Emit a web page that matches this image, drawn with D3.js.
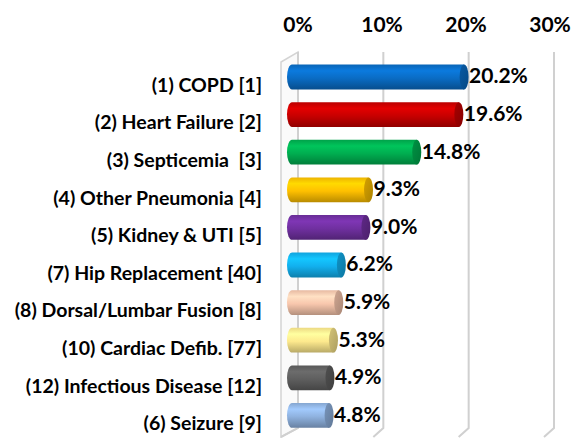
<!DOCTYPE html>
<html>
<head>
<meta charset="utf-8">
<script src="https://cdn.jsdelivr.net/npm/d3@7"></script>
<style>
  body { margin: 0; background: #fff; }
  svg { display: block; }
  text { font-family: Lato, "Open Sans", sans-serif; font-weight: bold; fill: #000; }
</style>
</head>
<body>
<div id="chart"></div>
<script>
(function (d3) {
    'use strict';

    // chart data, top bar first
    var categories = [
        '(1) COPD [1]',
        '(2) Heart Failure [2]',
        '(3) Septicemia  [3]',
        '(4) Other Pneumonia [4]',
        '(5) Kidney & UTI [5]',
        '(7) Hip Replacement [40]',
        '(8) Dorsal/Lumbar Fusion [8]',
        '(10) Cardiac Defib. [77]',
        '(12) Infectious Disease [12]',
        '(6) Seizure [9]'
    ];
    var values = [20.2, 19.6, 14.8, 9.3, 9.0, 6.2, 5.9, 5.3, 4.9, 4.8];
    var barColors = ['#0a6cc4', '#c80000', '#00ae50', '#ffc000', '#7030a0',
                     '#12b0ee', '#f8c7ad', '#fde98d', '#5f5f5f', '#8fb2df'];
    var ticks = [0, 10, 20, 30];

    var width = 574, height = 438;

    var svg = d3.select('#chart')
        .append('svg')
        .attr('width', width)
        .attr('height', height);

    var defs = svg.append('defs');

    // front plane (bars) and back wall (gridlines) of the 3d plot
    var x = d3.scaleLinear().domain([0, 30]).range([287, 550]);
    var xBack = d3.scaleLinear().domain([0, 30]).range([298, 554]);
    var xLabel = d3.scaleLinear().domain([0, 30]).range([298, 550]);
    var y = d3.scaleBand()
        .domain(categories)
        .range([58.2, 434.2])
        .paddingInner(0.34)
        .paddingOuter(0.17);

    var wallTop = 52, wallBottom = 428, floorY = 437;

    // left side wall
    svg.append('path')
        .attr('d', 'M' + xBack(0) + ',' + wallTop + ' L' + xBack(0) + ',' + wallBottom +
            ' L' + (xBack(0) - 17) + ',' + floorY + ' L' + (xBack(0) - 17) + ',' + (wallTop + 10) + 'Z')
        .attr('fill', '#fafafa')
        .attr('stroke', '#d4d4d4')
        .attr('stroke-width', 1.5);

    // gridlines on back wall + floor diagonals
    var grid = svg.append('g');
    grid.selectAll('path.grid')
        .data(ticks)
        .enter()
        .append('path')
        .attr('class', 'grid')
        .attr('d', function(d) {
            var xb = xBack(d), dx = d === 0 ? 17 : 10;
            return 'M' + xb + ',' + wallTop + ' L' + xb + ',' + wallBottom + ' L' + (xb - dx) + ',' + floorY;
        })
        .attr('fill', 'none')
        .attr('stroke', '#d0d0d0')
        .attr('stroke-width', 2);

    // tick labels across the top
    svg.append('g').selectAll('text')
        .data(ticks)
        .enter()
        .append('text')
        .attr('x', function(d) { return xLabel(d); })
        .attr('y', 32)
        .attr('text-anchor', 'middle')
        .style('font-size', '21px')
        .text(function(d) { return d + '%'; });

    // gradients for the cylinders
    barColors.forEach(function(c, i) {
        var base = d3.color(c);
        var g = defs.append('linearGradient')
            .attr('id', 'body' + i)
            .attr('x1', 0).attr('y1', 0).attr('x2', 0).attr('y2', 1);
        g.append('stop').attr('offset', '0%').attr('stop-color', base.darker(0.2));
        g.append('stop').attr('offset', '25%').attr('stop-color', base.brighter(0.35));
        g.append('stop').attr('offset', '55%').attr('stop-color', base);
        g.append('stop').attr('offset', '100%').attr('stop-color', base.darker(0.9));

        var e = defs.append('linearGradient')
            .attr('id', 'cap' + i)
            .attr('x1', 0).attr('y1', 0).attr('x2', 1).attr('y2', 1);
        e.append('stop').attr('offset', '0%').attr('stop-color', base.darker(0.5));
        e.append('stop').attr('offset', '100%').attr('stop-color', base.darker(1.1));
    });

    var h = y.bandwidth();
    var bars = svg.append('g').selectAll('g.bar')
        .data(values)
        .enter()
        .append('g')
        .attr('class', 'bar')
        .attr('transform', function(d, i) { return 'translate(0,' + y(categories[i]) + ')'; });

    // cylinder body with rounded left end
    bars.append('path')
        .attr('d', function(d) {
            var x0 = x(0), x1 = x(d), r = 5;
            return 'M' + (x0 + r) + ',0 L' + x1 + ',0 L' + x1 + ',' + h +
                ' L' + (x0 + r) + ',' + h +
                ' A' + r + ',' + (h / 2) + ' 0 0 1 ' + (x0 + r) + ',0 Z';
        })
        .attr('fill', function(d, i) { return 'url(#body' + i + ')'; });

    // end cap
    bars.append('ellipse')
        .attr('cx', function(d) { return x(d); })
        .attr('cy', h / 2)
        .attr('rx', 4.5)
        .attr('ry', h / 2)
        .attr('fill', function(d, i) { return 'url(#cap' + i + ')'; });

    // value labels
    bars.append('text')
        .attr('x', function(d) { return x(d) + 5; })
        .attr('y', h / 2 - 1)
        .attr('dy', '0.35em')
        .style('font-size', '21px')
        .text(function(d) { return d.toFixed(1) + '%'; });

    // category labels
    svg.append('g').selectAll('text')
        .data(categories)
        .enter()
        .append('text')
        .attr('x', 262)
        .attr('y', function(d) { return y(d) + h / 2 + 8; })
        .attr('dy', '0.35em')
        .attr('text-anchor', 'end')
        .style('font-size', '19.5px')
        .style('white-space', 'pre')
        .text(function(d) { return d; });

})(d3);
</script>
</body>
</html>
